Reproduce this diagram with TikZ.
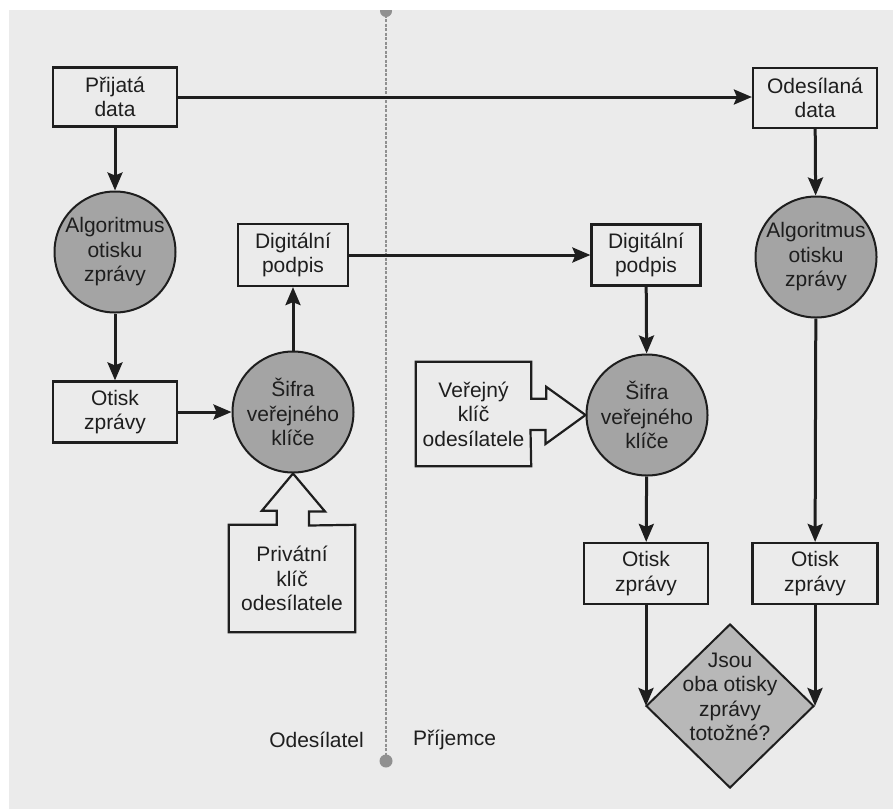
\documentclass[tikz,border=0pt]{standalone}
\usepackage{fontspec}
\setmainfont{Liberation Sans}
\usetikzlibrary{arrows.meta,shapes.geometric}
\definecolor{paper}{HTML}{EBEBEB}
\definecolor{ink}{HTML}{1E1E1E}
\definecolor{circfill}{HTML}{A4A4A4}
\definecolor{diamfill}{HTML}{B8B8B8}
\definecolor{sepline}{HTML}{909090}
\newcommand\dfont{\fontsize{21}{24.5}\selectfont}
\begin{document}
\begin{tikzpicture}[x=1pt,y=-1pt,
  txt/.style={inner sep=0pt, align=center, font=\dfont, text=ink},
  box/.style={txt, rectangle, draw=ink, line width=2.2pt, fill=paper},
  proc/.style={txt, circle, draw=ink, line width=2pt, fill=circfill, minimum size=121pt},
  keyshape/.style={draw=ink, line width=2.2pt, fill=paper, line join=miter},
  arr/.style={draw=ink, line width=3pt, -{Stealth[length=18pt,width=15pt,inset=3pt]}}]
\useasboundingbox (0,0) rectangle (893,809);
% paper
\fill[white] (0,0) rectangle (893,809);
\fill[paper] (9,10) rectangle (893,809);
% separator line
\fill[sepline] (386,11) circle (6);
\fill[white] (0,0) rectangle (893,10);
\coordinate (septop) at (386,10);
\coordinate (sepbot) at (386,761);
\draw[sepline, line width=1.5pt, dash pattern=on 3pt off 1.5pt] (septop) -- (sepbot);
\fill[sepline] (sepbot) circle (6.5);
\node[txt, anchor=east] (snd) at (364,740) {Odesílatel};
\node[txt, anchor=west] (rcv) at (413,740) {Příjemce};

% sender side
\node[box, minimum width=124pt, minimum height=59pt] (prij) at (115,97) {Přijatá\\data};
\node[proc] (alg1) at (115,252) {Algoritmus\\otisku\\zprávy};
\node[box, minimum width=124pt, minimum height=61pt] (otisk1) at (115,412) {Otisk\\zprávy};
\node[proc] (sifra1) at (293,412) {Šifra\\veřejného\\klíče};
\node[box, minimum width=110pt, minimum height=62pt] (dig1) at (293,255) {Digitální\\podpis};
\node[minimum width=126pt, minimum height=107pt, inner sep=0pt] (priv) at (292,578.5) {};
\path[keyshape] (priv.south west) -- (priv.north west) -- ++(48,0) -- ++(0,-14) -- ++(-15,0)
  -- (sifra1.south) -- ++(32,38) -- ++(-16,0) -- ++(0,14) -- (priv.north east)
  -- (priv.south east) -- cycle;
\node[txt] (privtext) at (priv) {Privátní\\klíč\\odesílatele};

% receiver side
\node[box, minimum width=124pt, minimum height=60pt] (odes) at (815,98) {Odesílaná\\data};
\node[proc] (alg2) at (816,257) {Algoritmus\\otisku\\zprávy};
\node[box, minimum width=109pt, minimum height=61pt] (dig2) at (646,255) {Digitální\\podpis};
\node[proc] (sifra2) at (647,415) {Šifra\\veřejného\\klíče};
\node[minimum width=115pt, minimum height=104pt, inner sep=0pt] (verej) at (473.5,414) {};
\path[keyshape] (verej.north west) -- (verej.north east) -- ++(0,37) -- ++(15,0) -- ++(0,-12)
  -- (sifra2.west) -- ++(-40,29) -- ++(0,-14) -- ++(-15,0) -- (verej.south east)
  -- (verej.south west) -- cycle;
\node[txt] (verejtext) at (verej) {Veřejný\\klíč\\odesílatele};
\node[box, minimum width=124pt, minimum height=61pt] (otisk2) at (646,573.5) {Otisk\\zprávy};
\node[box, minimum width=125pt, minimum height=61pt] (otisk3) at (815,573.5) {Otisk\\zprávy};
\node[diamond, draw=ink, line width=2pt, fill=diamfill, minimum width=168pt, minimum height=164pt, inner sep=0pt] (cmp) at (730,706) {};
\node[txt] (cmptext) at (730,697) {Jsou\\oba otisky\\zprávy\\totožné?};

% connectors
\draw[arr] (prij) -- (alg1);
\draw[arr] (alg1) -- (otisk1);
\draw[arr] (otisk1) -- (sifra1);
\draw[arr] (sifra1) -- (dig1);
\draw[arr] (prij.east) -- (prij.east -| odes.west);
\draw[arr] (dig1.east) -- (dig1.east -| dig2.west);
\draw[arr] (odes) -- (alg2);
\draw[arr] (alg2) -- (otisk3);
\draw[arr] (dig2) -- (sifra2);
\draw[arr] (sifra2) -- (otisk2);
\draw[arr] (otisk2.south) -- (otisk2.south |- cmp.west);
\draw[arr] (otisk3.south) -- (otisk3.south |- cmp.east);
\end{tikzpicture}
\end{document}
